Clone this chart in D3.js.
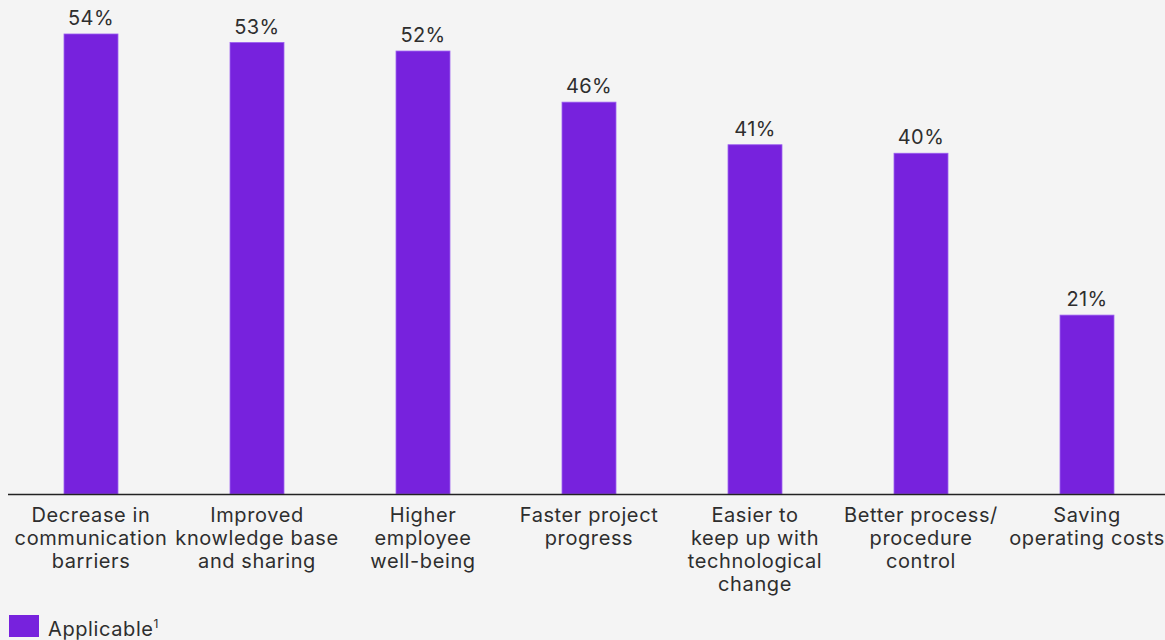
<!DOCTYPE html>
<html>
<head>
<meta charset="utf-8">
<script src="https://cdn.jsdelivr.net/npm/d3@7"></script>
<style>
  html, body { margin: 0; padding: 0; background: #f4f4f4; }
  svg { display: block; font-family: Inter, "Noto Sans", sans-serif; }
</style>
</head>
<body>
<script>
// chart data
var categories = [
  ["Decrease in", "communication", "barriers"],
  ["Improved", "knowledge base", "and sharing"],
  ["Higher", "employee", "well-being"],
  ["Faster project", "progress"],
  ["Easier to", "keep up with", "technological", "change"],
  ["Better process/", "procedure", "control"],
  ["Saving", "operating costs"]
];
var values = [54, 53, 52, 46, 41, 40, 21];
var seriesName = "Applicable";

var width = 1165, height = 640;
var barColor = "#7722dd";

var svg = d3.select("body").append("svg")
    .attr("width", width)
    .attr("height", height);

// set the ranges
var x = d3.scaleBand()
    .domain(d3.range(values.length))
    .range([8, 1170])
    .paddingInner(0.675)
    .paddingOuter(0.3375);

var y = d3.scaleLinear().domain([0, 54]).range([494, 34]);

// bars
svg.selectAll("rect.bar")
    .data(values)
  .enter().append("rect")
    .attr("class", "bar")
    .attr("x", (d, i) => x(i))
    .attr("width", x.bandwidth())
    .attr("y", d => y(d))
    .attr("height", d => y(0) - y(d))
    .attr("fill", barColor)
    .attr("stroke", "#9a5cf0")
    .attr("stroke-width", 0.8);

// value labels
svg.selectAll("text.val")
    .data(values)
  .enter().append("text")
    .attr("class", "val")
    .attr("x", (d, i) => x(i) + x.bandwidth() / 2)
    .attr("y", d => y(d) - 9)
    .attr("text-anchor", "middle")
    .attr("font-size", 20)
    .attr("letter-spacing", 0.4)
    .attr("fill", "#2e2e2e")
    .text(d => d + "%");

// baseline
svg.append("line")
    .attr("x1", 8).attr("x2", width)
    .attr("y1", y(0) + 0.5).attr("y2", y(0) + 0.5)
    .attr("stroke", "#222")
    .attr("stroke-width", 1.5);

// category labels
var cat = svg.selectAll("text.cat")
    .data(categories)
  .enter().append("text")
    .attr("class", "cat")
    .attr("text-anchor", "middle")
    .attr("font-size", 20)
    .attr("letter-spacing", 0.6)
    .attr("fill", "#2e2e2e")
    .attr("transform", (d, i) => "translate(" + (x(i) + x.bandwidth() / 2) + ",522)");

cat.selectAll("tspan")
    .data(d => d)
  .enter().append("tspan")
    .attr("x", 0)
    .attr("y", (d, j) => j * 23)
    .text(d => d);

// legend
svg.append("rect")
    .attr("x", 9).attr("y", 615)
    .attr("width", 30).attr("height", 22)
    .attr("fill", barColor);

var leg = svg.append("text")
    .attr("x", 48).attr("y", 636)
    .attr("font-size", 20)
    .attr("letter-spacing", 0.6)
    .attr("fill", "#2e2e2e")
    .text(seriesName);
leg.append("tspan")
    .attr("dy", -8)
    .attr("font-size", 12)
    .text("1");
</script>
</body>
</html>
